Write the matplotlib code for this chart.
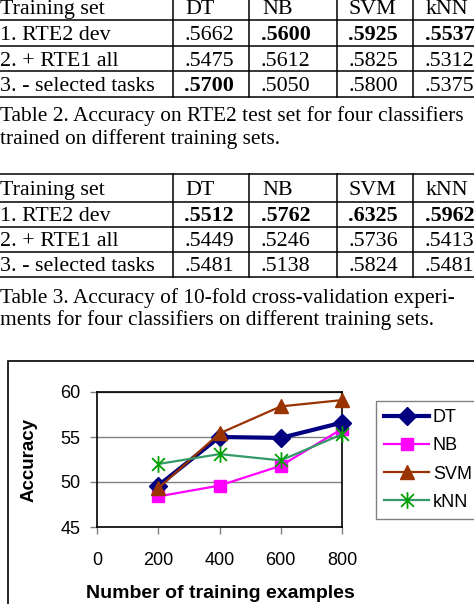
import numpy as np
import matplotlib.pyplot as plt
from matplotlib.lines import Line2D
from matplotlib.patches import Rectangle
from matplotlib.path import Path

W, H = 474, 604

# table data
classifiers = ["DT", "NB", "SVM", "kNN"]
training_sets = ["1. RTE2 dev", "2. + RTE1 all", "3. - selected tasks"]
t2_vals = [[".5662", ".5600", ".5925", ".5537"],
           [".5475", ".5612", ".5825", ".5312"],
           [".5700", ".5050", ".5800", ".5375"]]
t2_bold = [[0, 1, 1, 1], [0, 0, 0, 0], [1, 0, 0, 0]]
t3_vals = [[".5512", ".5762", ".6325", ".5962"],
           [".5449", ".5246", ".5736", ".5413"],
           [".5481", ".5138", ".5824", ".5481"]]
t3_bold = [[1, 1, 1, 1], [0, 0, 0, 0], [0, 0, 0, 0]]
t2_caption = ["Table 2. Accuracy on RTE2 test set for four classifiers",
              "trained on different training sets."]
t3_caption = ["Table 3. Accuracy of 10-fold cross-validation experi-",
              "ments for four classifiers on different training sets."]

# chart data
train_sizes = [200, 400, 600, 800]
acc_dt = [49.6, 55.0, 54.9, 56.6]
acc_nb = [48.4, 49.6, 51.8, 55.9]
acc_svm = [49.3, 55.4, 58.4, 59.1]
acc_knn = [52.0, 53.1, 52.4, 55.3]


def fx(x):
    return x / W


def fy(y):
    return 1 - y / H


fig = plt.figure(figsize=(W / 100, H / 100), dpi=100)
serif = "Liberation Serif"
fs = 15.8
cap_fs = 15.4


def hline(y):
    fig.add_artist(Line2D([fx(0), fx(W + 5)], [fy(y), fy(y)], color="black", lw=1.1))


def draw_table(top, lines, baselines, vals, bold):
    for y in lines:
        hline(y)
    for x in [173, 249, 337, 413]:
        fig.add_artist(Line2D([fx(x), fx(x)], [fy(top), fy(lines[-1])], color="black", lw=1.1))
    col_x = [184, 261, 348, 425]
    fig.text(fx(0), fy(baselines[0]), "Training set", family=serif, size=fs, va="baseline")
    for j, c in enumerate(classifiers):
        fig.text(fx(col_x[j] + 1), fy(baselines[0]), c, family=serif, size=fs, va="baseline")
    for i, name in enumerate(training_sets):
        fig.text(fx(0), fy(baselines[i + 1]), name, family=serif, size=fs, va="baseline")
        for j in range(4):
            fig.text(fx(col_x[j]), fy(baselines[i + 1]), vals[i][j], family=serif, size=fs,
                     va="baseline", weight="bold" if bold[i][j] else "normal")


draw_table(-10, [20, 46, 71, 97], [14, 40, 66, 91], t2_vals, t2_bold)
fig.text(fx(0), fy(121), t2_caption[0], family=serif, size=cap_fs, va="baseline")
fig.text(fx(0), fy(144), t2_caption[1], family=serif, size=cap_fs, va="baseline")

draw_table(174, [174, 202, 227, 252, 277], [195, 221, 246, 271], t3_vals, t3_bold)
fig.text(fx(0), fy(303), t3_caption[0], family=serif, size=cap_fs, va="baseline")
fig.text(fx(0), fy(325), t3_caption[1], family=serif, size=cap_fs, va="baseline")

# chart frame
fig.add_artist(Rectangle((fx(8), fy(H + 10)), fx(W), fy(361) - fy(H + 10),
                         transform=fig.transFigure, fill=False, ec="black", lw=1.2))

sans = "Liberation Sans"
ax = fig.add_axes([fx(97), fy(527), fx(342) - fx(97), fy(392) - fy(527)])

star = Path([(-1, -1), (1, 1), (-1, 1), (1, -1), (0, -1.3), (0, 1.3)],
            [Path.MOVETO, Path.LINETO, Path.MOVETO, Path.LINETO, Path.MOVETO, Path.LINETO])

ax.plot(train_sizes, acc_dt, color="#000080", lw=3, marker="D", ms=9.5, label="DT",
        clip_on=False, zorder=5)
ax.plot(train_sizes, acc_nb, color="#FF00FF", lw=1.6, marker="s", ms=9, label="NB",
        clip_on=False, zorder=4)
ax.plot(train_sizes, acc_svm, color="#993300", lw=1.6, marker="^", ms=10, label="SVM",
        clip_on=False, zorder=6)
ax.plot(train_sizes, acc_knn, color="#339966", lw=1.6, marker=star, ms=12, mec="#00A000",
        mew=1.3, label="kNN", clip_on=False, zorder=7)

ax.set_xlim(0, 800)
ax.set_ylim(45, 60)
ax.set_xticks([0, 200, 400, 600, 800])
ax.set_yticks([45, 50, 55, 60])
ax.grid(axis="y", color="#808080", lw=1)
ax.set_axisbelow(True)
for s in ax.spines.values():
    s.set_color("black")
    s.set_linewidth(1.2)
ax.tick_params(colors="#808080", length=5, width=1, labelcolor="black", labelsize=13)
ax.tick_params(axis="x", pad=13)
ax.tick_params(axis="y", pad=7)
for lab in ax.get_xticklabels() + ax.get_yticklabels():
    lab.set_family(sans)

ax.set_ylabel("Accuracy", family=sans, weight="bold", size=13.5)
ax.yaxis.set_label_coords((38 - 97) / 245, 0.5)
ax.set_xlabel("Number of training examples", family=sans, weight="bold", size=14)
ax.xaxis.set_label_coords((220 - 97) / 245, (527 - 593) / 135)
ax.xaxis.label.set_va("center")

leg = ax.legend(loc="upper left", bbox_to_anchor=(fx(376), fy(401)),
                bbox_transform=fig.transFigure, borderaxespad=0, fancybox=False,
                edgecolor="#808080", prop={"family": sans, "size": 13},
                handlelength=2.5, handletextpad=0.2, labelspacing=0.62,
                borderpad=0.45, framealpha=1)
leg.get_frame().set_linewidth(1)

fig.savefig("out.png", dpi=100)
